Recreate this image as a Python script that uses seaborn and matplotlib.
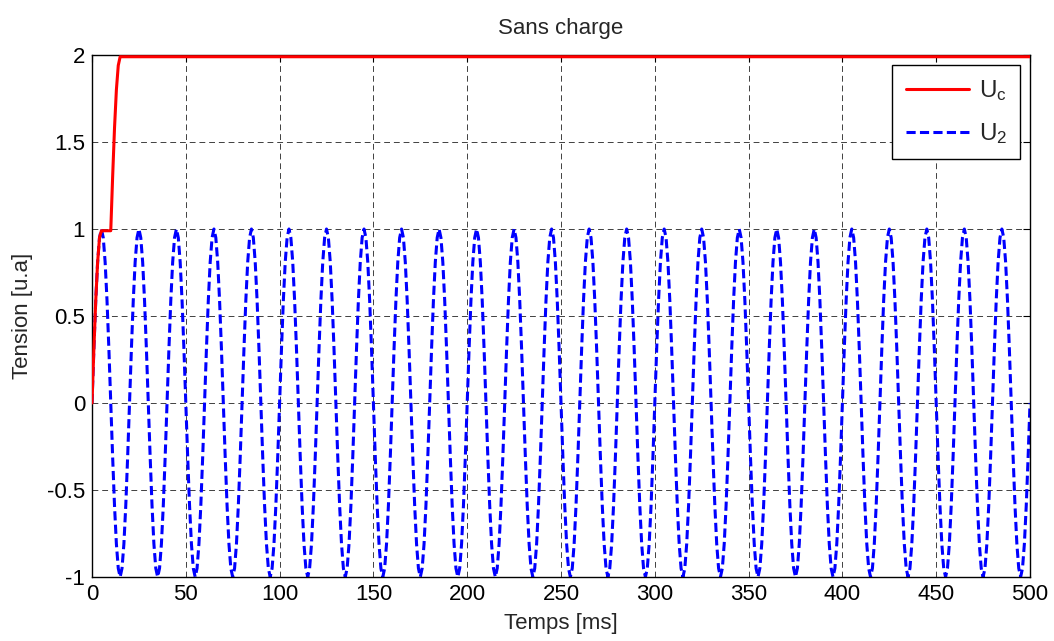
import numpy as np
import pandas as pd
import matplotlib
matplotlib.use("Agg")
import matplotlib.pyplot as plt
import seaborn as sns

# ---- data ----
u2_period = [0.0, 0.31, 0.59, 0.81, 0.95, 1.0, 0.95, 0.81, 0.59, 0.31,
             0.0, -0.31, -0.59, -0.81, -0.95, -1.0, -0.95, -0.81, -0.59, -0.31]
n_periods = 25
# Uc: charging ramp during first ms, then flat
uc_time = [0, 1, 2, 3, 4, 5, 6, 7, 8, 9, 10, 11, 12, 13, 14, 15, 500]
uc_vals = [0.0, 0.31, 0.59, 0.81, 0.95, 0.99, 0.99, 0.99, 0.99, 0.99,
           0.99, 1.30, 1.58, 1.80, 1.94, 1.99, 1.99]

x_ticks = [0, 50, 100, 150, 200, 250, 300, 350, 400, 450, 500]
y_ticks = [-1, -0.5, 0, 0.5, 1, 1.5, 2]
y_ticklabels = ["-1", "-0.5", "0", "0.5", "1", "1.5", "2"]

u2_vals = list(np.tile(u2_period, n_periods)) + [0.0]
u2_time = list(range(len(u2_vals)))

df_u2 = pd.DataFrame({"t": u2_time, "v": u2_vals})
df_uc = pd.DataFrame({"t": uc_time, "v": uc_vals})

# ---- style ----
sns.set_style("white")
plt.rcParams["font.family"] = ["Liberation Sans", "DejaVu Sans"]
plt.rcParams["mathtext.fontset"] = "custom"
plt.rcParams["mathtext.rm"] = "Liberation Sans"
plt.rcParams["mathtext.it"] = "Liberation Sans"

FS = 16

fig = plt.figure(figsize=(10.54, 6.41), dpi=100)
ax = fig.add_axes([92 / 1054, 1 - 577 / 641, (1030 - 92) / 1054, (577 - 55) / 641])

sns.lineplot(data=df_uc, x="t", y="v", ax=ax, color=(1, 0, 0), linewidth=2.2,
             estimator=None, sort=False, label=r"$\mathregular{U_c}$", zorder=3)
sns.lineplot(data=df_u2, x="t", y="v", ax=ax, color=(0, 0, 1), linewidth=2.2,
             estimator=None, sort=False, label=r"$\mathregular{U_2}$", zorder=2)
ax.lines[1].set_dashes([3, 1.4])

ax.set_xlim(0, 500)
ax.set_ylim(-1, 2)
ax.set_xticks(x_ticks)
ax.set_yticks(y_ticks)
ax.set_yticklabels(y_ticklabels)
ax.tick_params(axis="both", which="both", direction="in", length=5, width=0.8,
               labelsize=FS, top=True, right=True, pad=5, colors="black")
ax.grid(True, color="black", linestyle=(0, (6, 4)), linewidth=0.7, alpha=0.75)
for s in ax.spines.values():
    s.set_color("black")
    s.set_linewidth(1.0)

ax.set_title("Sans charge", fontsize=FS, pad=15)
ax.set_xlabel("Temps [ms]", fontsize=FS, labelpad=6)
ax.set_ylabel("Tension [u.a]", fontsize=FS, labelpad=10)

leg = ax.legend(loc="upper right", fontsize=17.5, handlelength=2.6, frameon=True,
                fancybox=False, edgecolor="black", framealpha=1,
                borderaxespad=0.4, labelspacing=0.75, handletextpad=0.4,
                borderpad=0.55)
leg.get_frame().set_linewidth(1.0)

fig.savefig("out.png", dpi=100)
